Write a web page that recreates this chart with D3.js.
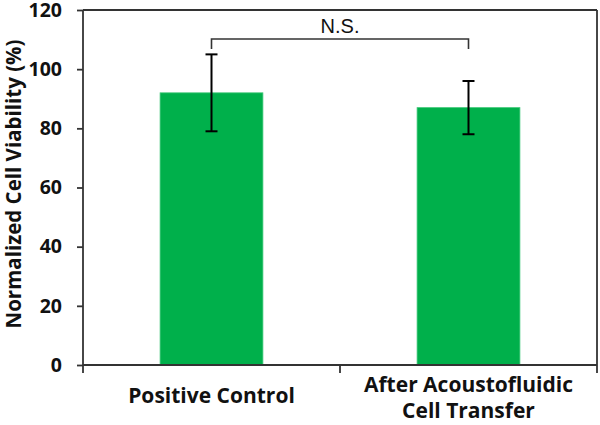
<!DOCTYPE html>
<html><head><meta charset="utf-8">
<script src="https://cdn.jsdelivr.net/npm/d3@7"></script>
<style>body{margin:0;background:#fff}svg{display:block}</style>
</head><body>
<script>
const categories = [["Positive Control"], ["After Acoustofluidic", "Cell Transfer"]];
const means = [92, 87];
const errUpper = [105, 96];
const errLower = [79, 78];
const yTicks = [0, 20, 40, 60, 80, 100, 120];
const yTitle = "Normalized Cell Viability (%)";
const sigLabel = "N.S.";

const W = 600, H = 425;
const L = 83, R = 597, T = 10, B = 365;
const svg = d3.select("body").append("svg").attr("width", W).attr("height", H);
const font = "'Open Sans', Lato, sans-serif";

const x = d3.scaleBand().domain(d3.range(categories.length)).range([L, R]).padding(0);
const y = d3.scaleLinear().domain([0, 120]).range([B, T]);
const bw = x.bandwidth() * 0.4;
const cx = i => x(i) + x.bandwidth() / 2;

// bars
svg.selectAll("rect.bar").data(means).join("rect")
  .attr("x", (d, i) => cx(i) - bw / 2).attr("width", bw)
  .attr("y", d => y(d)).attr("height", d => y(0) - y(d))
  .attr("fill", "#00B04B").attr("stroke", "#3fc878").attr("stroke-width", 0.8);

// y axis
const ya = svg.append("g").attr("transform", `translate(${L},0)`)
  .call(d3.axisLeft(y).tickValues(yTicks).tickSize(6).tickSizeOuter(0).tickPadding(15));
ya.select(".domain").remove();
ya.selectAll(".tick line").attr("stroke", "#333").attr("stroke-width", 1.8);
ya.selectAll(".tick text").attr("font-family", font).attr("font-weight", "bold")
  .attr("font-size", 19.5).attr("fill", "#111");

// frame lines
const axisColor = "#333";
svg.append("line").attr("x1", L).attr("x2", L).attr("y1", T).attr("y2", B + 8).attr("stroke", axisColor).attr("stroke-width", 1.8);
svg.append("line").attr("x1", R).attr("x2", R).attr("y1", T).attr("y2", B + 8).attr("stroke", axisColor).attr("stroke-width", 1.8);
svg.append("line").attr("x1", L).attr("x2", R).attr("y1", T).attr("y2", T).attr("stroke", axisColor).attr("stroke-width", 1.8);
svg.append("line").attr("x1", L).attr("x2", R).attr("y1", B).attr("y2", B).attr("stroke", axisColor).attr("stroke-width", 1.8);
// x ticks at band boundaries
d3.range(1, categories.length).forEach(i => {
  svg.append("line").attr("x1", x(i)).attr("x2", x(i)).attr("y1", B).attr("y2", B + 8).attr("stroke", axisColor).attr("stroke-width", 1.8);
});

// x labels
categories.forEach((lines, i) => {
  const t = svg.append("text").attr("text-anchor", "middle").attr("font-family", font)
    .attr("font-weight", "bold").attr("font-size", 21).attr("fill", "#111");
  const y0 = lines.length === 1 ? 403 : 392;
  lines.forEach((s, j) => {
    t.append("tspan").attr("x", cx(i)).attr("y", y0 + j * 26).text(s);
  });
});

// error bars
const eg = svg.append("g").attr("stroke", "#000").attr("stroke-width", 2);
means.forEach((m, i) => {
  const ex = cx(i);
  eg.append("line").attr("x1", ex).attr("x2", ex).attr("y1", y(errUpper[i])).attr("y2", y(errLower[i]));
  eg.append("line").attr("x1", ex - 6).attr("x2", ex + 6).attr("y1", y(errUpper[i])).attr("y2", y(errUpper[i]));
  eg.append("line").attr("x1", ex - 6).attr("x2", ex + 6).attr("y1", y(errLower[i])).attr("y2", y(errLower[i]));
});

// significance bracket
const by = 39, bEnd = 49;
svg.append("path")
  .attr("d", `M${cx(0)},${bEnd}V${by}H${cx(1)}V${bEnd}`)
  .attr("fill", "none").attr("stroke", "#333").attr("stroke-width", 1.6);
svg.append("text").attr("x", (cx(0) + cx(1)) / 2).attr("y", 33).attr("text-anchor", "middle")
  .attr("font-family", "Arial, 'Liberation Sans', sans-serif").attr("font-size", 20).attr("fill", "#111")
  .text(sigLabel);

// y title
svg.append("text").attr("transform", `translate(21,184) rotate(-90)`)
  .attr("text-anchor", "middle").attr("font-family", font).attr("font-weight", "bold")
  .attr("font-size", 20.5).attr("fill", "#111").text(yTitle);
</script>
</body></html>
